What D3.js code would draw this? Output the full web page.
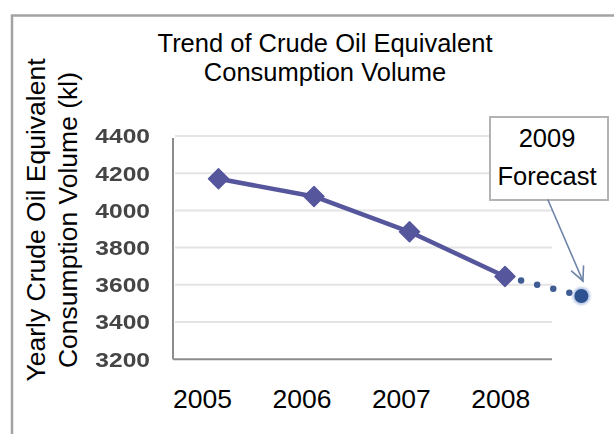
<!DOCTYPE html>
<html>
<head>
<meta charset="utf-8">
<script src="https://cdn.jsdelivr.net/npm/d3@7"></script>
<style>
  html, body { margin: 0; padding: 0; background: #fff; }
  svg { display: block; }
  text { font-family: "Liberation Sans", Arial, sans-serif; }
</style>
</head>
<body>
<svg id="chart" width="614" height="434"></svg>
<script>
// Yearly crude-oil-equivalent consumption (kl)
const years = [2005, 2006, 2007, 2008];
const yearLabels = ["2005", "2006", "2007", "2008"];
const consumption = [4170, 4075, 3885, 3645];
// 2009 forecast, placed just short of the next year slot
const forecastYear = 2008.8;
const forecastValue = 3540;
const yTicks = [3200, 3400, 3600, 3800, 4000, 4200, 4400];
const titleLines = ["Trend of Crude Oil Equivalent", "Consumption Volume"];
const yTitleLines = ["Yearly Crude Oil Equivalent", "Consumption Volume (kl)"];
const calloutLines = ["2009", "Forecast"];

const svg = d3.select("#chart");

const defs = svg.append("defs");
defs.append("filter").attr("id", "soft")
  .append("feGaussianBlur").attr("stdDeviation", 0.6);
defs.append("filter").attr("id", "softer")
  .append("feGaussianBlur").attr("stdDeviation", 1.1);

// scales
const y = d3.scaleLinear().domain([3200, 4400]).range([359.2, 136]);
const xPts = d3.scaleLinear().domain([2005, 2008]).range([218.5, 505]);
const xLab = d3.scaleLinear().domain([2005, 2008]).range([202.5, 500.8]);
const plotLeft = 173, plotRight = 552;

// outer frame
svg.append("path")
  .attr("d", `M12,440 L12,15.5 L620,15.5`)
  .attr("fill", "none").attr("stroke", "#a3a3a3").attr("stroke-width", 2.5);

// title
svg.append("g").selectAll("text").data(titleLines).join("text")
  .attr("x", 325).attr("y", (d, i) => 51.5 + i * 29.5)
  .attr("text-anchor", "middle").attr("font-size", 25.5).attr("fill", "#000")
  .text(d => d);

// y-axis title
svg.append("g").selectAll("text").data(yTitleLines).join("text")
  .attr("transform", (d, i) => `translate(${45 + i * 31.5},220) rotate(-90)`)
  .attr("text-anchor", "middle").attr("font-size", 26.5).attr("fill", "#000")
  .text(d => d);

// gridlines
svg.append("g").selectAll("line").data(yTicks.slice(1)).join("line")
  .attr("x1", plotLeft + 2).attr("x2", plotRight)
  .attr("y1", d => y(d)).attr("y2", d => y(d))
  .attr("stroke", "#e4e4e4").attr("stroke-width", 2);

// y axis line and baseline
svg.append("line")
  .attr("x1", plotLeft).attr("x2", plotLeft)
  .attr("y1", y(4400) + 2).attr("y2", y(3200))
  .attr("stroke", "#8c8c8c").attr("stroke-width", 2);
svg.append("line")
  .attr("x1", plotLeft).attr("x2", plotRight)
  .attr("y1", y(3200)).attr("y2", y(3200))
  .attr("stroke", "#8c8c8c").attr("stroke-width", 2);

// y tick labels (slightly wide, soft grey)
svg.append("g").attr("filter", "url(#soft)")
  .selectAll("text").data(yTicks).join("text")
  .attr("transform", d => `translate(150,${y(d)}) scale(1.17,1)`)
  .attr("text-anchor", "end").attr("dominant-baseline", "central")
  .attr("font-size", 21).attr("font-weight", "bold").attr("fill", "#454545")
  .text(d => d);

// x category labels
svg.append("g").selectAll("text").data(years).join("text")
  .attr("x", d => xLab(d)).attr("y", 407.5)
  .attr("text-anchor", "middle").attr("font-size", 26.5).attr("fill", "#000")
  .text((d, i) => yearLabels[i]);

const seriesColor = "#56569d";
const forecastColor = "#3f5b95";
const series = svg.append("g").attr("filter", "url(#soft)");

// dotted projection from the last actual point to the forecast
series.append("line")
  .attr("x1", xPts(years[3])).attr("y1", y(consumption[3]))
  .attr("x2", xPts(forecastYear)).attr("y2", y(forecastValue))
  .attr("stroke", forecastColor).attr("stroke-width", 6.5)
  .attr("stroke-linecap", "round").attr("stroke-dasharray", "0 16.6");

// actual consumption line
const line = d3.line().x((d, i) => xPts(years[i])).y(d => y(d));
series.append("path").datum(consumption)
  .attr("d", line).attr("fill", "none")
  .attr("stroke", seriesColor).attr("stroke-width", 4.5)
  .attr("stroke-linejoin", "round");

// diamond markers
const diamond = d3.symbol().type(d3.symbolSquare).size(200);
series.selectAll("path.mk").data(consumption).join("path")
  .attr("class", "mk")
  .attr("transform", (d, i) => `translate(${xPts(years[i])},${y(d)}) rotate(45)`)
  .attr("d", diamond)
  .attr("fill", seriesColor).attr("stroke", seriesColor)
  .attr("stroke-width", 1.5).attr("stroke-linejoin", "round");

// forecast point
const fx = xPts(forecastYear), fy = y(forecastValue);
series.append("circle").attr("cx", fx).attr("cy", fy).attr("r", 9)
  .attr("fill", "#7d9bd0").attr("opacity", 0.55).attr("filter", "url(#softer)");
series.append("circle").attr("cx", fx).attr("cy", fy).attr("r", 7)
  .attr("fill", "#2f5190");

// callout box
const box = { x: 490, y: 117, w: 118, h: 83 };
svg.append("rect")
  .attr("x", box.x).attr("y", box.y).attr("width", box.w).attr("height", box.h)
  .attr("fill", "#fff").attr("stroke", "#b3b3b3").attr("stroke-width", 2);
svg.append("g").selectAll("text").data(calloutLines).join("text")
  .attr("x", box.x + box.w / 2 - 2).attr("y", (d, i) => 147 + i * 38)
  .attr("text-anchor", "middle").attr("font-size", 25.5).attr("fill", "#000")
  .text(d => d);

// callout arrow pointing at the forecast point
const ax0 = 548, ay0 = box.y + box.h;
const ax1 = fx + 1.5, ay1 = fy - 15;
const ang = Math.atan2(ay1 - ay0, ax1 - ax0);
const headLen = 15, spread = 0.45;
const arrow = svg.append("g").attr("stroke", "#6f84a8").attr("stroke-width", 1.6)
  .attr("fill", "none").attr("stroke-linecap", "round");
arrow.append("line").attr("x1", ax0).attr("y1", ay0).attr("x2", ax1).attr("y2", ay1);
arrow.append("path")
  .attr("d", `M${ax1 - headLen * Math.cos(ang - spread)},${ay1 - headLen * Math.sin(ang - spread)}`
    + ` L${ax1},${ay1}`
    + ` L${ax1 - headLen * Math.cos(ang + spread)},${ay1 - headLen * Math.sin(ang + spread)}`);
</script>
</body>
</html>
